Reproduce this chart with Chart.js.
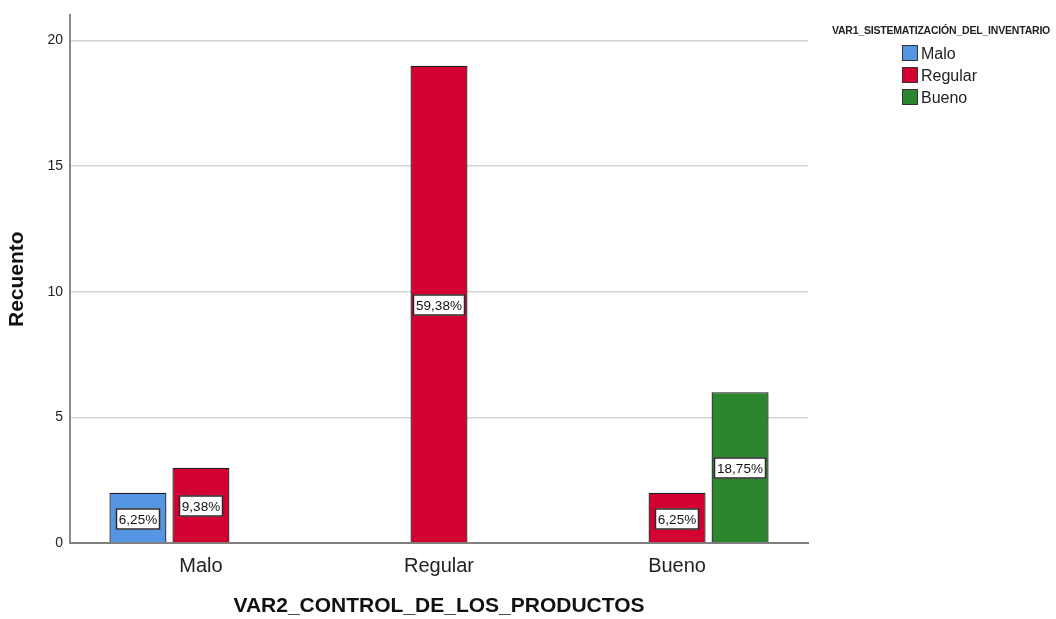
<!DOCTYPE html>
<html>
<head>
<meta charset="utf-8">
<script src="https://cdn.jsdelivr.net/npm/chart.js@4.4.1/dist/chart.umd.min.js"></script>
<style>
	body { margin: 0; background: #fff; font-family: "Liberation Sans", Arial, sans-serif; }
	#wrap { position: relative; width: 1056px; height: 619px; }
	#legend { position: absolute; left: 826px; top: 24px; width: 230px; color: #222; }
	#legend .title { font-size: 10.5px; font-weight: bold; text-align: center; white-space: nowrap; letter-spacing: -0.2px; margin-bottom: 7px; }
	#legend .item { position: relative; left: 76px; height: 22px; line-height: 22px; font-size: 16px; }
	#legend .box { display: inline-block; width: 14px; height: 14px; border: 1px solid #333; vertical-align: -2px; margin-right: 3px; }
</style>
</head>
<body>
<div id="wrap">
	<canvas id="chart" width="1056" height="619"></canvas>
	<div id="legend"></div>
</div>
<script>
"use strict"

// data
const categories = ["Malo", "Regular", "Bueno"]
const seriesNames = ["Malo", "Regular", "Bueno"]
const maloValues = [2, 0, 0]
const regularValues = [3, 19, 2]
const buenoValues = [0, 0, 6]
const yTicks = [0, 5, 10, 15, 20]
const colors = ["#5596E4", "#D40032", "#2C862D"]

const allSeries = [maloValues, regularValues, buenoValues]
const total = allSeries.flat().reduce((a, b) => a + b, 0)

// legend
const legendEl = document.getElementById("legend")
legendEl.innerHTML = '<div class="title">VAR1_SISTEMATIZACIÓN_DEL_INVENTARIO</div>' +
	seriesNames.map((n, i) => '<div class="item"><span class="box" style="background:' + colors[i] + '"></span>' + n + "</div>").join("")

// white boxes with percentage inside bars
const pctLabels = {
	id: "pctLabels",
	afterDatasetsDraw(chart) {
		const ctx = chart.ctx
		ctx.save()
		ctx.font = "13.5px 'Liberation Sans', Arial, sans-serif"
		ctx.textAlign = "center"
		ctx.textBaseline = "middle"
		chart.data.datasets.forEach((ds, i) => {
			chart.getDatasetMeta(i).data.forEach((bar, j) => {
				const v = ds.data[j].y
				const txt = (v / total * 100).toFixed(2).replace(".", ",") + "%"
				const w = Math.round(ctx.measureText(txt).width) + 6
				const h = 21
				const cx = Math.round(bar.x)
				const cy = Math.round((bar.y + bar.base) / 2) + 1
				ctx.fillStyle = "#fff"
				ctx.fillRect(cx - w / 2, cy - h / 2, w, h)
				ctx.strokeStyle = "#2a2a2a"
				ctx.lineWidth = 1.5
				ctx.strokeRect(cx - w / 2 + 0.5, cy - h / 2 + 0.5, w - 1, h - 1)
				ctx.fillStyle = "#111"
				ctx.fillText(txt, cx, cy + 1)
			})
		})
		ctx.restore()
	},
}

const datasets = allSeries.map((vals, i) => ({
	label: seriesNames[i],
	data: vals.map((v, k) => ({ x: k, y: v })).filter((p) => p.y > 0),
	backgroundColor: colors[i],
	borderColor: "#1e1e1e",
	borderWidth: 1.3,
	categoryPercentage: 0.794,
	barPercentage: 0.905,
}))

const ctx = document.getElementById("chart")
const myChart = new Chart(ctx, {
	type: "bar",
	data: { datasets: datasets },
	plugins: [pctLabels],
	options: {
		responsive: false,
		animation: false,
		layout: {
			padding: { top: 14, right: 248, left: 0, bottom: 0 },
		},
		plugins: {
			legend: { display: false },
			tooltip: { enabled: false },
		},
		scales: {
			x: {
				type: "linear",
				offset: false,
				min: -0.55,
				max: 2.55,
				afterBuildTicks: (scale) => {
					scale.ticks = categories.map((c, i) => ({ value: i }))
				},
				afterFit: (scale) => {
					scale.height = 76
				},
				ticks: {
					callback: (v) => categories[v],
					color: "#222",
					font: { family: "'Liberation Sans', Arial, sans-serif", size: 20 },
					padding: 3,
					maxRotation: 0,
				},
				grid: { display: false },
				border: { color: "#7f7f7f", width: 2 },
				title: {
					display: true,
					text: "VAR2_CONTROL_DE_LOS_PRODUCTOS",
					color: "#111",
					font: { family: "'Liberation Sans', Arial, sans-serif", size: 21, weight: "bold" },
					padding: { top: 0, bottom: 0 },
				},
			},
			y: {
				min: 0,
				max: 21,
				afterBuildTicks: (scale) => {
					scale.ticks = yTicks.map((v) => ({ value: v }))
				},
				afterFit: (scale) => {
					scale.width = 70
				},
				ticks: {
					color: "#222",
					font: { family: "'Liberation Sans', Arial, sans-serif", size: 14 },
					padding: 7,
				},
				grid: { color: "#d3d3d3", lineWidth: 1.5, drawTicks: false },
				border: { color: "#8a8a8a", width: 2 },
				title: {
					display: true,
					text: "Recuento",
					color: "#111",
					font: { family: "'Liberation Sans', Arial, sans-serif", size: 21, weight: "bold" },
					padding: { top: 5, bottom: 0 },
				},
			},
		},
	},
})
</script>
</body>
</html>
